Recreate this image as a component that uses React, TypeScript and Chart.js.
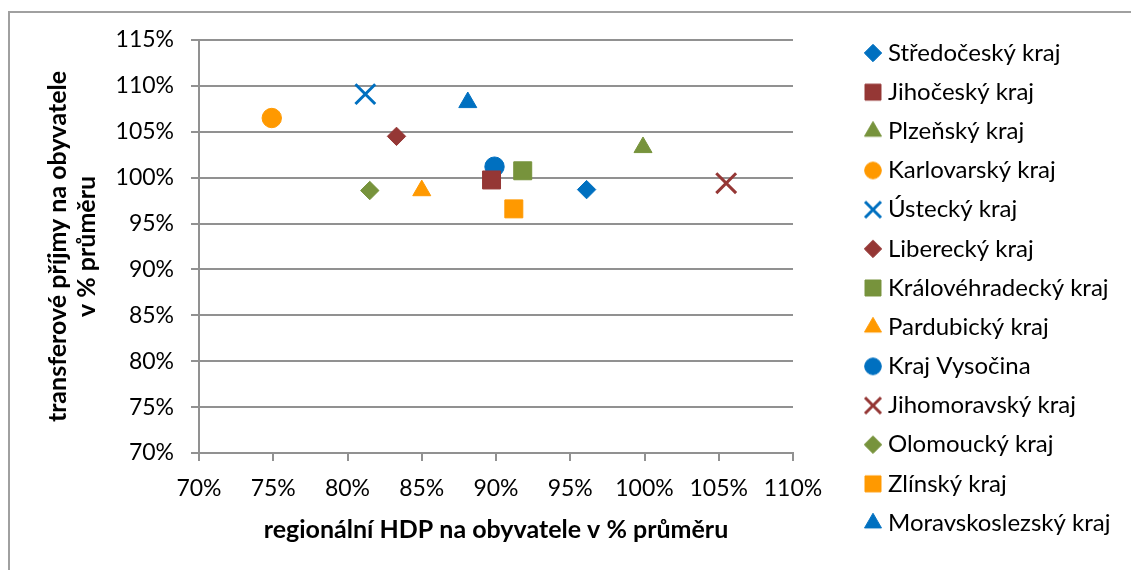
import React, { useEffect, useRef } from 'react';
import { Chart, registerables } from 'chart.js';
import { drawPoint } from 'chart.js/helpers';

Chart.register(...registerables);

// ---------- data ----------
const regions = [
  'Středočeský kraj',
  'Jihočeský kraj',
  'Plzeňský kraj',
  'Karlovarský kraj',
  'Ústecký kraj',
  'Liberecký kraj',
  'Královéhradecký kraj',
  'Pardubický kraj',
  'Kraj Vysočina',
  'Jihomoravský kraj',
  'Olomoucký kraj',
  'Zlínský kraj',
  'Moravskoslezský kraj',
];
// regionální HDP na obyvatele v % průměru
const hdpPct = [96.1, 89.7, 99.9, 74.9, 81.2, 83.3, 91.8, 85.0, 89.9, 105.5, 81.5, 91.2, 88.1];
// transferové příjmy na obyvatele v % průměru
const transferPct = [98.7, 99.75, 103.3, 106.5, 109.1, 104.5, 100.75, 98.6, 101.2, 99.4, 98.6, 96.6, 108.2];

const markerStyles = [
  'rectRot', 'rect', 'triangle', 'circle', 'crossRot', 'rectRot', 'rect',
  'triangle', 'circle', 'crossRot', 'rectRot', 'rect', 'triangle',
];
const BLUE = '#0070C0';
const RED = '#953735';
const GREEN = '#77933C';
const ORANGE = '#FF9900';
const markerColors = [
  BLUE, RED, GREEN, ORANGE, BLUE, RED, GREEN, ORANGE, BLUE, RED, GREEN, ORANGE, BLUE,
];

const xMin = 70, xMax = 110, xStep = 5;
const yMin = 70, yMax = 115, yStep = 5;
const xTitle = 'regionální HDP na obyvatele v % průměru';
const yTitle = ['transferové příjmy na obyvatele', 'v % průměru'];

// ---------- styling ----------
const W = 1131, H = 570;
const FONT = 'Lato';
const GRID = '#919191';
const TICK_FONT = 23;
const TITLE_FONT = 25;
const LEG_FONT = 24;
const LEG_PAD = 15.17;
const LEG_BOX = 6;
const LEGEND_LEFT = 854.8;
const CHART_RIGHT = 793;

const plotRadius: Record<string, number> = { rectRot: 9.2, rect: 12.7, triangle: 10.4, circle: 9.7, crossRot: 14 };
const legendRadius: Record<string, number> = { rectRot: 8.7, rect: 11.3, triangle: 9.8, circle: 8.3, crossRot: 11.3 };

function makeIcon(style: string, color: string) {
  const c = document.createElement('canvas');
  c.width = 30; c.height = 30;
  const ctx = c.getContext('2d')!;
  ctx.fillStyle = color;
  ctx.strokeStyle = color;
  const bw = style === 'crossRot' ? 3 : 1;
  ctx.lineWidth = bw;
  drawPoint(ctx, { pointStyle: style as any, radius: legendRadius[style], rotation: 0, borderWidth: bw }, 15, 15);
  return c;
}

export default function App() {
  const ref = useRef<HTMLCanvasElement>(null);

  useEffect(() => {
    document.body.style.overflow = 'hidden';
    let chart: Chart | null = null;
    let cancelled = false;

    const build = () => {
      if (cancelled) return;
      const canvas = ref.current!;
      const icons = regions.map((_, i) => makeIcon(markerStyles[i], markerColors[i]));

      const m = document.createElement('canvas').getContext('2d')!;
      m.font = `${LEG_FONT}px ${FONT}`;
      const tw = Math.max(...regions.map((r) => m.measureText(r).width));
      const legendW = LEG_PAD + LEG_BOX + LEG_FONT / 2 + tw + 10;
      const padRight = W - LEGEND_LEFT - legendW;

      const datasets = regions.map((name, i) => ({
        label: name,
        data: [{ x: hdpPct[i], y: transferPct[i] }],
        showLine: false,
        pointStyle: markerStyles[i] as any,
        pointRadius: plotRadius[markerStyles[i]],
        pointBackgroundColor: markerColors[i],
        pointBorderColor: markerColors[i],
        pointBorderWidth: markerStyles[i] === 'crossRot' ? 3 : 1,
      }));

      Chart.defaults.font.family = FONT;
      Chart.defaults.color = '#000';

      chart = new Chart(canvas, {
        type: 'scatter',
        data: { datasets },
        options: {
          animation: false,
          responsive: false,
          events: [],
          layout: { padding: { top: 6, bottom: 0, left: 0, right: padRight } },
          plugins: {
            tooltip: { enabled: false },
            title: {
              display: true,
              text: '',
              fullSize: false,
              padding: { top: 0, bottom: 24 },
              font: { size: 10, lineHeight: 1 },
            },
            legend: {
              position: 'right',
              align: 'center',
              maxWidth: 600,
              labels: {
                usePointStyle: true,
                boxWidth: LEG_BOX,
                boxHeight: LEG_BOX,
                padding: LEG_PAD,
                color: '#000',
                font: { size: LEG_FONT, family: FONT },
                generateLabels: (ch: any) =>
                  ch.data.datasets.map((ds: any, i: number) => ({
                    text: ds.label,
                    pointStyle: icons[i],
                    fillStyle: markerColors[i],
                    strokeStyle: markerColors[i],
                    lineWidth: 0,
                    hidden: false,
                    datasetIndex: i,
                  })),
              },
            },
          },
          scales: {
            x: {
              type: 'linear',
              min: xMin,
              max: xMax,
              ticks: {
                stepSize: xStep,
                callback: (v: any) => `${v}%`,
                color: '#000',
                font: { size: TICK_FONT },
                padding: 14,
                maxRotation: 0,
                autoSkip: false,
              },
              grid: { display: true, drawOnChartArea: false, drawTicks: true, tickLength: 8, color: GRID, lineWidth: 2 },
              border: { display: true, color: GRID, width: 2 },
              title: {
                display: true,
                text: xTitle,
                color: '#000',
                font: { size: TITLE_FONT, weight: 'bold', lineHeight: 1.2 },
                padding: { top: 0, bottom: 25 },
              },
              afterFit: (s: any) => { s.height = 117; },
            },
            y: {
              type: 'linear',
              position: 'left',
              min: yMin,
              max: yMax,
              ticks: {
                stepSize: yStep,
                callback: (v: any) => `${v}%`,
                color: '#000',
                font: { size: TICK_FONT },
                padding: 17,
              },
              grid: { display: true, drawTicks: true, tickLength: 8, color: GRID, lineWidth: 2 },
              border: { display: true, color: GRID, width: 2 },
              title: {
                display: true,
                text: yTitle,
                color: '#000',
                font: { size: TITLE_FONT, weight: 'bold', lineHeight: 1.144 },
                padding: { top: 44, bottom: 0 },
              },
              afterFit: (s: any) => { s.width = 199; },
            },
            gap: {
              type: 'linear',
              axis: 'y',
              position: 'right',
              display: true,
              grid: { display: false, drawTicks: false },
              border: { display: false },
              ticks: { display: false },
              afterFit: (s: any) => { s.width = LEGEND_LEFT - CHART_RIGHT; },
            },
          },
        } as any,
      });
    };

    const fonts: any = (document as any).fonts;
    const loads = fonts
      ? Promise.all([
          fonts.load(`${LEG_FONT}px ${FONT}`),
          fonts.load(`bold ${TITLE_FONT}px ${FONT}`),
        ]).catch(() => null)
      : Promise.resolve(null);
    loads.then(build);

    return () => {
      cancelled = true;
      if (chart) chart.destroy();
    };
  }, []);

  return (
    <div style={{ position: 'fixed', left: 0, top: 0, width: W, height: H, overflow: 'hidden', background: '#fff' }}>
      <div
        style={{
          position: 'absolute', left: 8, top: 11, width: W, height: H,
          borderLeft: '2px solid #a0a0a0', borderTop: '2px solid #a0a0a0',
        }}
      />
      <canvas ref={ref} width={W} height={H} style={{ position: 'absolute', left: 0, top: 0 }} />
    </div>
  );
}
